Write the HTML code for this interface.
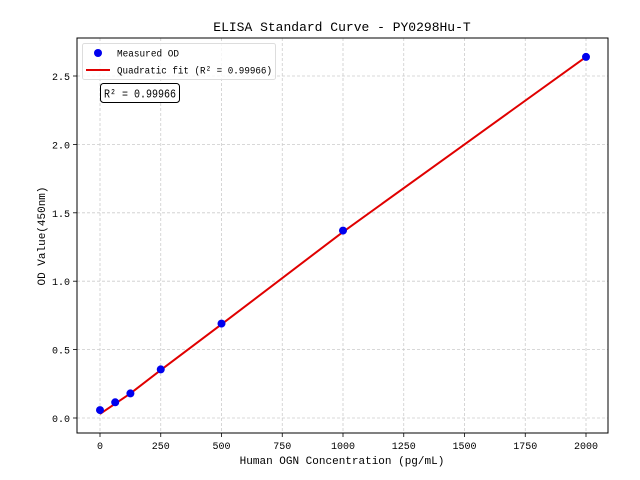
<!DOCTYPE html>
<html><head><meta charset="utf-8"><style>body{margin:0;background:#fff}svg{display:block}text{font-family:"Liberation Mono","WenQuanYi Zen Hei",monospace;fill:#000}</style></head><body>
<svg width="640" height="480" viewBox="0 0 640 480">
<rect width="640" height="480" fill="#fff"/>
<g stroke="#ccc" stroke-width="0.8" stroke-dasharray="3,2">
<line x1="100" y1="38" x2="100" y2="433"/><line x1="160.75" y1="38" x2="160.75" y2="433"/><line x1="221.5" y1="38" x2="221.5" y2="433"/><line x1="282.25" y1="38" x2="282.25" y2="433"/><line x1="343" y1="38" x2="343" y2="433"/><line x1="403.75" y1="38" x2="403.75" y2="433"/><line x1="464.5" y1="38" x2="464.5" y2="433"/><line x1="525.25" y1="38" x2="525.25" y2="433"/><line x1="586" y1="38" x2="586" y2="433"/>
<line x1="77" y1="418" x2="608" y2="418"/><line x1="77" y1="349.6" x2="608" y2="349.6"/><line x1="77" y1="281.2" x2="608" y2="281.2"/><line x1="77" y1="212.8" x2="608" y2="212.8"/><line x1="77" y1="144.4" x2="608" y2="144.4"/><line x1="77" y1="76" x2="608" y2="76"/>
</g>
<g stroke="#000" stroke-width="0.8">
<line x1="100" y1="433" x2="100" y2="437"/><line x1="160.75" y1="433" x2="160.75" y2="437"/><line x1="221.5" y1="433" x2="221.5" y2="437"/><line x1="282.25" y1="433" x2="282.25" y2="437"/><line x1="343" y1="433" x2="343" y2="437"/><line x1="403.75" y1="433" x2="403.75" y2="437"/><line x1="464.5" y1="433" x2="464.5" y2="437"/><line x1="525.25" y1="433" x2="525.25" y2="437"/><line x1="586" y1="433" x2="586" y2="437"/>
<line x1="73" y1="418" x2="77" y2="418"/><line x1="73" y1="349.6" x2="77" y2="349.6"/><line x1="73" y1="281.2" x2="77" y2="281.2"/><line x1="73" y1="212.8" x2="77" y2="212.8"/><line x1="73" y1="144.4" x2="77" y2="144.4"/><line x1="73" y1="76" x2="77" y2="76"/>
</g>
<g font-size="10" text-anchor="middle">
<text x="100" y="449">0</text><text x="160.75" y="449">250</text><text x="221.5" y="449">500</text><text x="282.25" y="449">750</text><text x="343" y="449">1000</text><text x="403.75" y="449">1250</text><text x="464.5" y="449">1500</text><text x="525.25" y="449">1750</text><text x="586" y="449">2000</text>
</g>
<g font-size="10" text-anchor="end">
<text x="70" y="422">0.0</text><text x="70" y="353.6">0.5</text><text x="70" y="285.2">1.0</text><text x="70" y="216.8">1.5</text><text x="70" y="148.4">2.0</text><text x="70" y="80">2.5</text>
</g>
<text x="342" y="464" font-size="11" text-anchor="middle">Human OGN Concentration (pg/mL)</text>
<text transform="translate(45,236) rotate(-90)" font-size="11" text-anchor="middle">OD Value(450nm)</text>
<text x="342" y="31" font-size="13" text-anchor="middle">ELISA Standard Curve - PY0298Hu-T</text>
<polyline fill="none" stroke="#e00000" stroke-width="2" points="100,413.9 115.2,403.7 130.4,393.4 160.75,370.1 221.5,324.3 343,231.9 464.5,144.4 586,56.9"/>
<g fill="#0000ee">
<circle cx="100" cy="410.1" r="4"/><circle cx="115.2" cy="402.3" r="4"/><circle cx="130.4" cy="393.4" r="4"/><circle cx="160.75" cy="369.4" r="4"/><circle cx="221.5" cy="323.6" r="4"/><circle cx="343" cy="230.6" r="4"/><circle cx="586" cy="56.9" r="4"/>
</g>
<rect x="77" y="38" width="531" height="395" fill="none" stroke="#000" stroke-width="1"/>
<rect x="82.5" y="43.5" width="193" height="36" rx="2" fill="#fff" fill-opacity="0.8" stroke="#ddd"/>
<circle cx="98" cy="53" r="4" fill="#0000ee"/>
<text x="117" y="56.5" font-size="10" textLength="62" lengthAdjust="spacingAndGlyphs">Measured OD</text>
<line x1="86" y1="70" x2="110" y2="70" stroke="#e00000" stroke-width="2"/>
<text x="117" y="73.5" font-size="10" textLength="155" lengthAdjust="spacingAndGlyphs">Quadratic fit (R² = 0.99966)</text>
<rect x="100.5" y="83.5" width="79" height="19" rx="3" fill="#fff" stroke="#000"/>
<text x="104" y="97.5" font-size="12" textLength="72" lengthAdjust="spacingAndGlyphs">R² = 0.99966</text>
</svg>
</body></html>
